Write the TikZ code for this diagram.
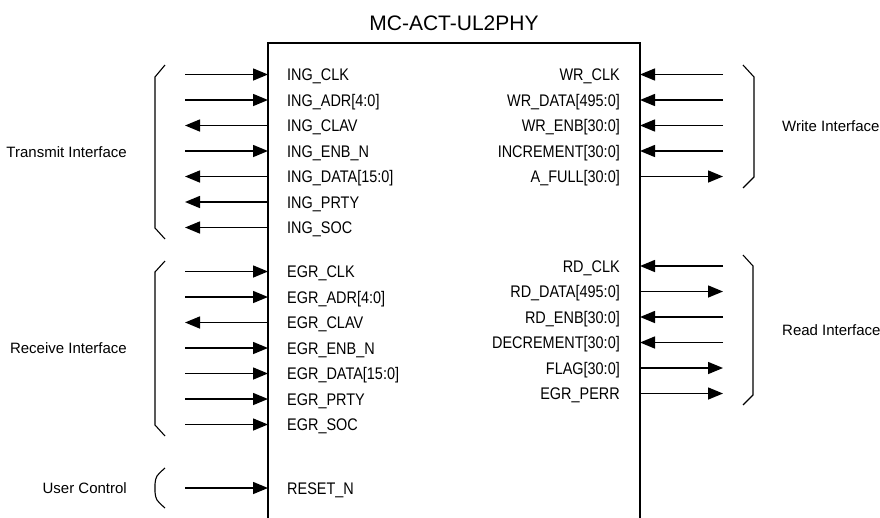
\documentclass[tikz,border=0pt]{standalone}
\usepackage{fontspec}
\setmainfont{Liberation Sans}
\newfontfamily\pinfont[FakeStretch=0.86]{Liberation Sans}
\usetikzlibrary{arrows.meta}
\tikzset{
  pin/.style={inner sep=0pt, font=\pinfont\fontsize{16.8}{18}\selectfont},
  side/.style={inner sep=0pt, font=\fontsize{15}{17}\selectfont},
  sig/.style={line width=1.5pt, -{Triangle[length=15pt,width=12pt]}},
  brk/.style={line width=1.1pt},
  boxline/.style={line width=1.4pt}
}
\begin{document}
\begin{tikzpicture}[x=1pt,y=-1pt]
\useasboundingbox (0,0) rectangle (880,517);
% title
\node[inner sep=0pt, anchor=base, font=\fontsize{21}{24}\selectfont] (title) at (454,30) {MC-ACT-UL2PHY};
% box (open at bottom)
\coordinate (bl) at (268,525);
\coordinate (tl) at (268,43);
\coordinate (tr) at (640,43);
\coordinate (br) at (640,525);
\draw[boxline] (bl) -- (tl) -- (tr) -- (br);
% left side signals: name / y / direction (1 = into box)
\foreach \name/\yy/\dir [count=\i] in {
  ING\_CLK/74.5/1, ING\_ADR[4:0]/100/1, ING\_CLAV/125.5/0, ING\_ENB\_N/151/1,
  ING\_DATA[15:0]/176.5/0, ING\_PRTY/202/0, ING\_SOC/227.5/0,
  EGR\_CLK/271.5/1, EGR\_ADR[4:0]/297/1, EGR\_CLAV/322.5/0, EGR\_ENB\_N/348/1,
  EGR\_DATA[15:0]/373.5/1, EGR\_PRTY/399/1, EGR\_SOC/424.5/1, RESET\_N/488/1}{
  \coordinate (lo\i) at (185,\yy);
  \coordinate (li\i) at (268,\yy);
  \node[pin, anchor=base west] (lt\i) at (287,\yy+6) {\name};
  \ifnum\dir=1 \draw[sig] (lo\i) -- (li\i); \else \draw[sig] (li\i) -- (lo\i); \fi
}
% right side signals
\foreach \name/\yy/\dir [count=\i] in {
  WR\_CLK/74.5/1, WR\_DATA[495:0]/100/1, WR\_ENB[30:0]/125.5/1,
  INCREMENT[30:0]/151/1, A\_FULL[30:0]/176.5/0,
  RD\_CLK/266/1, RD\_DATA[495:0]/291.5/0, RD\_ENB[30:0]/317/1,
  DECREMENT[30:0]/342.5/1, FLAG[30:0]/368/0, EGR\_PERR/393.5/0}{
  \coordinate (ro\i) at (723,\yy);
  \coordinate (ri\i) at (640,\yy);
  \node[pin, anchor=base east] (rt\i) at (620,\yy+6) {\name};
  \ifnum\dir=1 \draw[sig] (ro\i) -- (ri\i); \else \draw[sig] (ri\i) -- (ro\i); \fi
}
% left brackets
\draw[brk] (165,65) -- (155,77) -- (155,228) -- (165,239);
\draw[brk] (165,261) -- (155,272) -- (155,425) -- (165,436);
\draw[brk] (165,468) .. controls (156,476) .. (155,484) -- (155,492) .. controls (156,500) .. (165,508);
% right brackets
\draw[brk] (743,65) -- (754,77) -- (754,177) -- (743,188);
\draw[brk] (743,255) -- (753,266) -- (753,395) -- (743,405);
% side labels
\node[side, anchor=base east] (tx) at (127,157.5) {Transmit Interface};
\node[side, anchor=base east] (rx) at (127,353.5) {Receive Interface};
\node[side, anchor=base east] (uc) at (127,493.5) {User Control};
\node[side, anchor=base west] (wi) at (782,131.5) {Write Interface};
\node[side, anchor=base west] (ri) at (782,335) {Read Interface};
\end{tikzpicture}
\end{document}
